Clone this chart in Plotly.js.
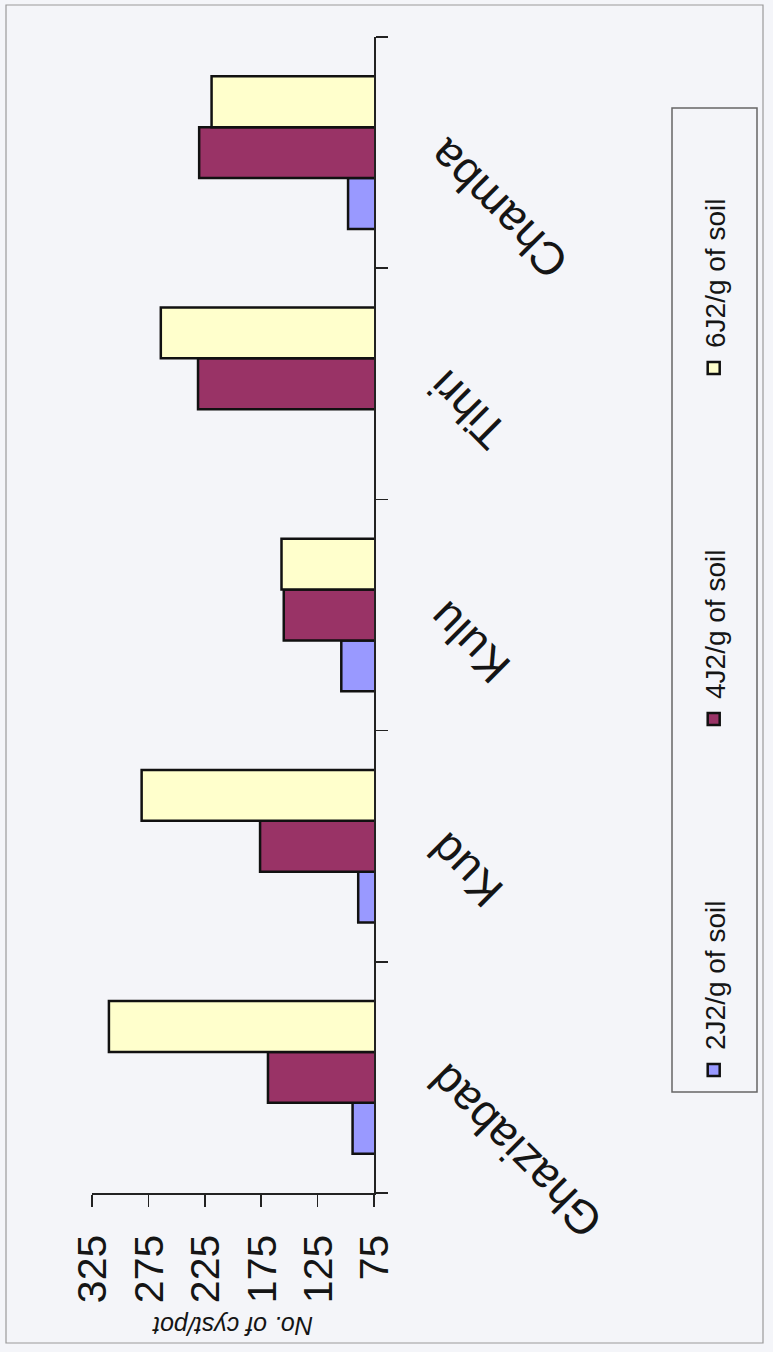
<!DOCTYPE html>
<html>
<head>
<meta charset="utf-8">
<script src="https://cdn.plot.ly/plotly-3.0.1.min.js"></script>
<style>
  html, body { margin: 0; padding: 0; width: 773px; height: 1352px; overflow: hidden; background: #f4f5f9; }
  #chart { position: absolute; left: 0; top: 0; width: 1352px; height: 773px;
           transform-origin: 0 0; transform: translateY(1352px) rotate(-90deg); }
</style>
</head>
<body>
<div id="chart"></div>
<script>
// Data
const categories = ['Ghaziabad', 'Kud', 'Kulu', 'Tihri', 'Chamba'];
const seriesNames = ['2J2/g of soil', '4J2/g of soil', '6J2/g of soil'];
const values2J2 = [94, 89, 104, null, 98];
const values4J2 = [169, 176, 155, 231, 230];
const values6J2 = [310, 281, 157, 264, 219];
const yTicks = [75, 125, 175, 225, 275, 325];
const yTitle = 'No. of cyst/pot';

const colors = ['#9999ff', '#993366', '#ffffcc'];
const seriesValues = [values2J2, values4J2, values6J2];

const FONT = 'Liberation Sans, Arial, sans-serif';

const traces = seriesValues.map((vals, i) => ({
  type: 'bar',
  name: seriesNames[i],
  x: categories,
  y: vals,
  marker: { color: colors[i], line: { color: '#111111', width: 2.5 } },
  hoverinfo: 'skip'
}));

const W = 1352, H = 773;
const L = 159, R = 37, T = 92, B = 399;
const plotW = W - L - R, plotH = H - T - B;
const px2x = v => (v - L) / plotW;          // horizontal pixel -> paper x
const py2y = v => (H - B - v) / plotH;      // vertical pixel -> paper y

const layout = {
  width: W,
  height: H,
  margin: { l: L, r: R, t: T, b: B, pad: 0 },
  paper_bgcolor: '#f4f5f9',
  plot_bgcolor: 'rgba(0,0,0,0)',
  font: { family: FONT, color: '#151515' },
  barmode: 'group',
  bargap: 0.34,
  bargroupgap: 0,
  showlegend: true,
  xaxis: {
    type: 'category',
    showline: true,
    linecolor: '#222',
    linewidth: 1.5,
    ticks: 'outside',
    tickson: 'boundaries',
    ticklen: 12,
    tickcolor: '#222',
    tickwidth: 1.5,
    tickangle: -45,
    ticklabelstandoff: 24,
    tickfont: { size: 46, family: FONT, color: '#151515' },
    showgrid: false,
    zeroline: false,
    automargin: false,
    fixedrange: true
  },
  yaxis: {
    range: [75, 325],
    tickvals: yTicks,
    ticktext: yTicks.map(String),
    showline: true,
    linecolor: '#222',
    linewidth: 1.5,
    ticks: 'outside',
    ticklen: 12,
    tickcolor: '#222',
    tickwidth: 1.5,
    ticklabelstandoff: 20,
    tickfont: { size: 41, family: FONT, color: '#151515' },
    showgrid: false,
    zeroline: false,
    automargin: false,
    fixedrange: true,
    title: { text: yTitle, standoff: 6, font: { size: 25, family: FONT, style: 'italic', color: '#151515' } }
  },
  legend: {
    orientation: 'h',
    x: px2x(262),
    xanchor: 'left',
    y: py2y(714),
    yanchor: 'middle',
    bgcolor: 'rgba(0,0,0,0)',
    borderwidth: 0,
    font: { size: 28, family: FONT, color: '#151515' },
    entrywidth: 306,
    traceorder: 'normal',
    itemclick: false,
    itemdoubleclick: false
  },
  shapes: [
    { type: 'rect', xref: 'paper', yref: 'paper', layer: 'below',
      x0: px2x(9), x1: px2x(1347), y0: py2y(763), y1: py2y(6),
      line: { color: '#9a9a9a', width: 1.2 }, fillcolor: 'rgba(0,0,0,0)' },
    { type: 'rect', xref: 'paper', yref: 'paper', layer: 'below',
      x0: px2x(260), x1: px2x(1244), y0: py2y(757), y1: py2y(672),
      line: { color: '#666', width: 1.5 }, fillcolor: 'rgba(0,0,0,0)' }
  ]
};

Plotly.newPlot('chart', traces, layout, { staticPlot: true, displayModeBar: false });
</script>
</body>
</html>
